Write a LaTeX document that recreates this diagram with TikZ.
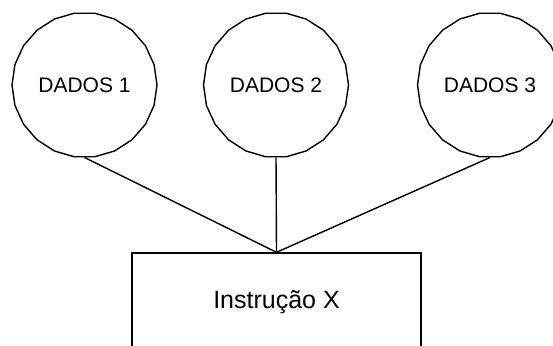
\documentclass[tikz,border=0pt]{standalone}
\usepackage{fontspec}
\setmainfont{Liberation Sans}
\usetikzlibrary{shapes.geometric}
\begin{document}
\begin{tikzpicture}[x=1pt,y=-1pt,
  datum/.style={draw, line width=1.4pt, regular polygon, regular polygon sides=22,
    minimum size=145pt, inner sep=0pt, font=\fontsize{21}{24}\selectfont},
  instrbox/.style={draw, line width=1.4pt, rectangle, minimum width=289pt,
    minimum height=98pt, inner sep=0pt, font=\fontsize{25}{28}\selectfont},
  link/.style={line width=1.4pt}]
\useasboundingbox (0,0) rectangle (553,345);
\clip (0,0) rectangle (553,345);
\node[datum] (d1) at (84.5,85) {DADOS 1};
\node[datum] (d2) at (276,85) {DADOS 2};
\node[datum] (d3) at (490,85) {DADOS 3};
\node[instrbox] (ix) at (276.5,302) {Instrução X};
\draw[link] (d1.south) -- (ix.north);
\draw[link] (d2.south) -- (ix.north);
\draw[link] (d3.south) -- (ix.north);
\end{tikzpicture}
\end{document}
